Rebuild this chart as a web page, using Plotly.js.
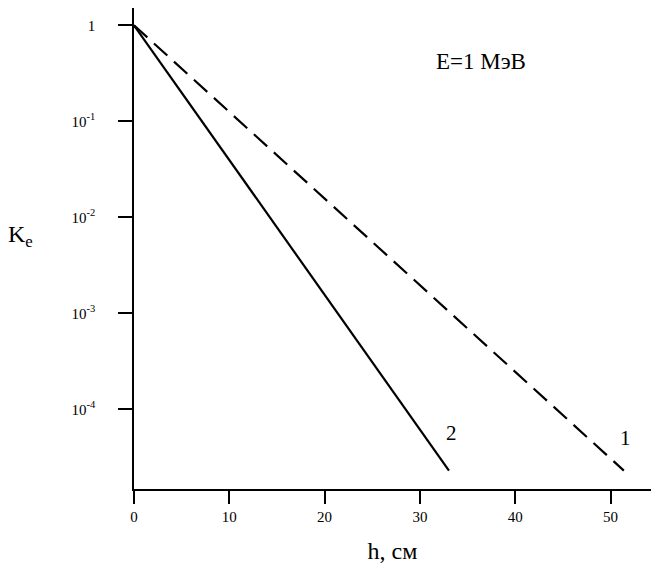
<!DOCTYPE html>
<html>
<head>
<meta charset="utf-8">
<script src="https://cdn.plot.ly/plotly-3.0.1.min.js"></script>
<style>html,body{margin:0;padding:0;background:#fff;}#chart{width:651px;height:570px;}</style>
</head>
<body>
<div id="chart"></div>
<script>
// Curve 1 (dashed) and curve 2 (solid): attenuation factor Ke vs thickness h
const h1 = [0, 51.4];
const ke1 = [1, 2.3e-5];
const h2 = [0, 33.05];
const ke2 = [1, 2.3e-5];
const curveLabels = ["1", "2"];
const yTickVals = [1, 0.1, 0.01, 0.001, 0.0001];
const yTickText = ["1", "10<sup>-1</sup>", "10<sup>-2</sup>", "10<sup>-3</sup>", "10<sup>-4</sup>"];
const xTickVals = [0, 10, 20, 30, 40, 50];

const serif = "Liberation Serif";

const traces = [
  {x: h1, y: ke1, mode: "lines", line: {color: "#000", width: 2.2, dash: "18px,9px"}, hoverinfo: "skip"},
  {x: h2, y: ke2, mode: "lines", line: {color: "#000", width: 2.2}, hoverinfo: "skip"}
];

const layout = {
  width: 651, height: 570,
  margin: {l: 134, r: 0, t: 8, b: 81},
  paper_bgcolor: "#fff", plot_bgcolor: "#fff",
  showlegend: false,
  font: {family: serif, color: "#000"},
  xaxis: {
    range: [0, 54.25],
    tickvals: xTickVals,
    ticks: "outside", ticklen: 13, tickwidth: 1.5, tickcolor: "#000",
    showline: true, linecolor: "#000", linewidth: 1.5,
    showgrid: false, zeroline: false,
    tickfont: {family: serif, size: 15, color: "#000"},
    title: {text: "h, см", font: {family: serif, size: 24, color: "#000"}, standoff: 18}
  },
  yaxis: {
    type: "log",
    range: [-4.83, 0.18],
    tickvals: yTickVals, ticktext: yTickText,
    ticks: "outside", ticklen: 14, tickwidth: 1.5, tickcolor: "#000",
    ticklabelstandoff: 20,
    showline: true, linecolor: "#000", linewidth: 1.5,
    showgrid: false, zeroline: false,
    tickfont: {family: serif, size: 15, color: "#000"}
  },
  annotations: [
    {xref: "paper", yref: "paper", x: -0.22, y: 0.527, text: "K<sub>e</sub>", showarrow: false,
     font: {family: serif, size: 24, color: "#000"}, xanchor: "center"},
    {xref: "x", yref: "y", x: 36.4, y: -0.38, text: "E=1 МэВ", showarrow: false,
     font: {family: serif, size: 23, color: "#000"}},
    {xref: "x", yref: "y", x: h2[1] + 0.3, y: -4.25, text: curveLabels[1], showarrow: false,
     font: {family: serif, size: 21, color: "#000"}},
    {xref: "x", yref: "y", x: h1[1] + 0.2, y: -4.3, text: curveLabels[0], showarrow: false,
     font: {family: serif, size: 21, color: "#000"}}
  ]
};

Plotly.newPlot("chart", traces, layout, {displayModeBar: false});
</script>
</body>
</html>
